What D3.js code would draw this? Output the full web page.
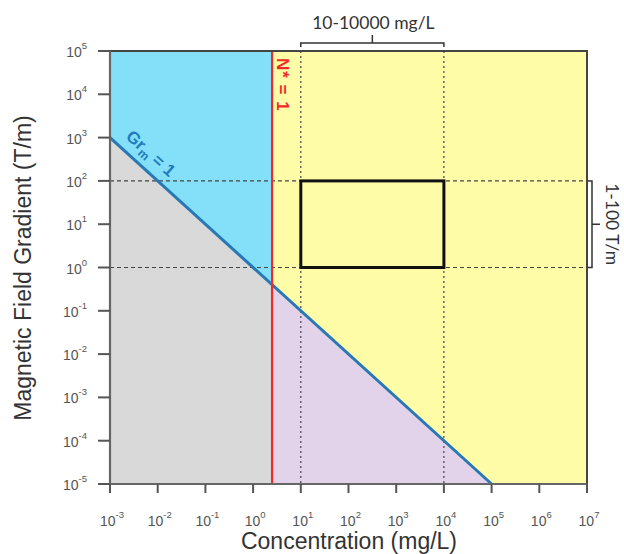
<!DOCTYPE html>
<html>
<head>
<meta charset="utf-8">
<script src="https://cdn.jsdelivr.net/npm/d3@7"></script>
<style>
  body { margin: 0; background: #fff; }
</style>
</head>
<body>
<div id="chart"></div>
<script>
// axis tick exponents (powers of ten)
var xExp = [-3, -2, -1, 0, 1, 2, 3, 4, 5, 6, 7];
var yExp = [-5, -4, -3, -2, -1, 0, 1, 2, 3, 4, 5];

// Gr_m = 1 boundary (concentration, gradient)
var grLine = [[1e-3, 1e3], [1e5, 1e-5]];
// N* = 1 boundary concentration
var nStar = 2.5;
// target window
var boxConc = [10, 1e4];
var boxGrad = [1, 100];

var width = 624, height = 554;
var svg = d3.select("#chart").append("svg")
    .attr("width", width).attr("height", height)
    .style("font-family", "Liberation Sans, Arial, sans-serif");

var x = d3.scaleLog().domain([1e-3, 1e7]).range([110, 587]);
var y = d3.scaleLog().domain([1e-5, 1e5]).range([484, 51]);

var x0 = x.range()[0], x1 = x.range()[1];
var y0 = y.range()[0], y1 = y.range()[1];

// gradient on Gr line at a given concentration (y = k / x)
var k = grLine[0][0] * grLine[0][1];
function grAt(c) { return k / c; }

var line = d3.line().x(function(d) { return x(d[0]); }).y(function(d) { return y(d[1]); });

// regions
var xMin = 1e-3, xMax = 1e7, yMin = 1e-5, yMax = 1e5;
// gray: below Gr, left of N*
svg.append("path").attr("fill", "#d9d9d9")
    .attr("d", line([[xMin, yMin], [xMin, grAt(xMin)], [nStar, grAt(nStar)], [nStar, yMin]]) + "Z");
// blue: above Gr, left of N*
svg.append("path").attr("fill", "#84e0f9")
    .attr("d", line([[xMin, grAt(xMin)], [xMin, yMax], [nStar, yMax], [nStar, grAt(nStar)]]) + "Z");
// purple: below Gr, right of N*
svg.append("path").attr("fill", "#e2d3ea")
    .attr("d", line([[nStar, yMin], [nStar, grAt(nStar)], [grLine[1][0], grLine[1][1]]]) + "Z");
// yellow: above Gr, right of N*
svg.append("path").attr("fill", "#fffca8")
    .attr("d", line([[nStar, grAt(nStar)], [nStar, yMax], [xMax, yMax], [xMax, yMin], [grLine[1][0], grLine[1][1]]]) + "Z");

// dashed guides
var dash = svg.append("g").attr("stroke", "#444").attr("stroke-width", 1.2)
    .attr("stroke-dasharray", "4,3");
boxGrad.forEach(function(g) {
    dash.append("line").attr("x1", x0).attr("x2", x1).attr("y1", y(g)).attr("y2", y(g));
});
boxConc.forEach(function(c) {
    dash.append("line").attr("x1", x(c)).attr("x2", x(c)).attr("y1", y1).attr("y2", y0)
        .attr("stroke-dasharray", "2,3");
});

// target box
svg.append("rect")
    .attr("x", x(boxConc[0])).attr("y", y(boxGrad[1]))
    .attr("width", x(boxConc[1]) - x(boxConc[0]))
    .attr("height", y(boxGrad[0]) - y(boxGrad[1]))
    .attr("fill", "none").attr("stroke", "#111").attr("stroke-width", 3);

// Gr line
svg.append("path").attr("d", line(grLine))
    .attr("fill", "none").attr("stroke", "#2878b5").attr("stroke-width", 3);

// N* line
svg.append("line").attr("x1", x(nStar)).attr("x2", x(nStar)).attr("y1", y1).attr("y2", y0)
    .attr("stroke", "#ee2b24").attr("stroke-width", 2.2);

// frame
svg.append("path")
    .attr("d", "M" + x0 + "," + y1 + "H" + x1 + "V" + y0)
    .attr("fill", "none").attr("stroke", "#444").attr("stroke-width", 2);
svg.append("path")
    .attr("d", "M" + x0 + "," + y1 + "V" + y0 + "H" + x1)
    .attr("fill", "none").attr("stroke", "#666").attr("stroke-width", 2.2);

// ticks
var tickCol = "#555";
xExp.forEach(function(e) {
    var px = x(Math.pow(10, e));
    svg.append("line").attr("x1", px).attr("x2", px).attr("y1", y0).attr("y2", y0 + 9)
        .attr("stroke", tickCol).attr("stroke-width", 2);
    var t = svg.append("text").attr("x", px + 2).attr("y", y0 + 42)
        .attr("text-anchor", "middle").attr("fill", "#555").attr("font-size", 14);
    t.append("tspan").text("10");
    t.append("tspan").attr("dy", -8).attr("font-size", 9.5).text(e);
});
yExp.forEach(function(e) {
    var py = y(Math.pow(10, e));
    svg.append("line").attr("x1", x0 - 12).attr("x2", x0).attr("y1", py).attr("y2", py)
        .attr("stroke", tickCol).attr("stroke-width", 2);
    var t = svg.append("text").attr("x", x0 - 23).attr("y", py + 6)
        .attr("text-anchor", "end").attr("fill", "#555").attr("font-size", 14);
    t.append("tspan").text("10");
    t.append("tspan").attr("dy", -8).attr("font-size", 9.5).text(e);
});

// axis titles
svg.append("text").attr("x", 349).attr("y", 549).attr("text-anchor", "middle")
    .attr("font-size", 23).attr("fill", "#333").text("Concentration (mg/L)");
svg.append("text").attr("transform", "translate(31,268) rotate(-90)")
    .attr("text-anchor", "middle").attr("font-size", 23).attr("fill", "#333")
    .text("Magnetic Field Gradient (T/m)");

// boundary labels
var ang = Math.atan2(y(grLine[1][1]) - y(grLine[0][1]), x(grLine[1][0]) - x(grLine[0][0])) * 180 / Math.PI;
var gc = Math.pow(10, -2.35);
var gx = x(gc), gy = y(grAt(gc));
var gr = svg.append("text")
    .attr("transform", "translate(" + (gx + 6) + "," + (gy - 8) + ") rotate(" + ang + ")")
    .attr("text-anchor", "middle").attr("fill", "#1f7cc0")
    .attr("font-size", 17).attr("font-weight", "bold");
gr.append("tspan").text("Gr");
gr.append("tspan").attr("dy", 4).attr("font-size", 12).text("m");
gr.append("tspan").attr("dy", -4).text(" = 1");

svg.append("text")
    .attr("transform", "translate(" + (x(nStar) + 5) + "," + (y1 + 7) + ") rotate(90)")
    .attr("fill", "#ee2b24").attr("font-size", 17).attr("font-weight", "bold")
    .attr("letter-spacing", 1)
    .text("N* = 1");

// brackets
var bx0 = x(boxConc[0]), bx1 = x(boxConc[1]), by = 43;
svg.append("path")
    .attr("d", "M" + bx0 + "," + (by + 4) + "V" + by + "H" + bx1 + "V" + (by + 4)
        + "M" + ((bx0 + bx1) / 2) + "," + by + "V" + (by - 8))
    .attr("fill", "none").attr("stroke", "#333").attr("stroke-width", 1.5);
svg.append("text").attr("x", (bx0 + bx1) / 2 + 1).attr("y", 29)
    .attr("text-anchor", "middle").attr("font-family", "Lato, Carlito, sans-serif")
    .attr("font-size", 17.5).attr("fill", "#333").text(boxConc[0] + "-" + boxConc[1] + " mg/L");

var rx = 592, ry0 = y(boxGrad[1]), ry1 = y(boxGrad[0]);
svg.append("path")
    .attr("d", "M" + (rx - 4) + "," + ry0 + "H" + rx + "V" + ry1 + "H" + (rx - 4)
        + "M" + rx + "," + ((ry0 + ry1) / 2) + "H" + (rx + 8))
    .attr("fill", "none").attr("stroke", "#333").attr("stroke-width", 1.5);
svg.append("text")
    .attr("transform", "translate(" + 606 + "," + ((ry0 + ry1) / 2) + ") rotate(90)")
    .attr("text-anchor", "middle").attr("font-family", "Lato, Carlito, sans-serif")
    .attr("font-size", 17.5).attr("fill", "#333").text(boxGrad[0] + "-" + boxGrad[1] + " T/m");
</script>
</body>
</html>
